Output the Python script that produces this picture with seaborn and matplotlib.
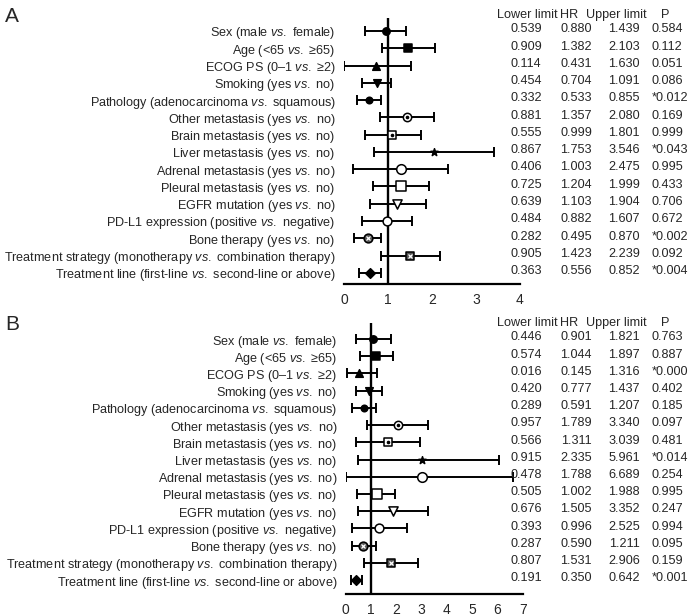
import matplotlib
matplotlib.use("Agg")
import matplotlib.pyplot as plt
import matplotlib.transforms as mtransforms
import seaborn as sns
import pandas as pd
import numpy as np

sns.set_style("white")
plt.rcParams["font.family"] = ["Liberation Sans", "DejaVu Sans"]
plt.rcParams["mathtext.fontset"] = "custom"
plt.rcParams["mathtext.rm"] = "Liberation Sans"
plt.rcParams["mathtext.it"] = "Liberation Sans:italic"

VS = r"$\mathit{vs.}$"
labels = [
    f"Sex (male {VS} female)",
    f"Age (<65 {VS} ≥65)",
    f"ECOG PS (0–1 {VS} ≥2)",
    f"Smoking (yes {VS} no)",
    f"Pathology (adenocarcinoma {VS} squamous)",
    f"Other metastasis (yes {VS} no)",
    f"Brain metastasis (yes {VS} no)",
    f"Liver metastasis (yes {VS} no)",
    f"Adrenal metastasis (yes {VS} no)",
    f"Pleural metastasis (yes {VS} no)",
    f"EGFR mutation (yes {VS} no)",
    f"PD-L1 expression (positive {VS} negative)",
    f"Bone therapy (yes {VS} no)",
    f"Treatment strategy (monotherapy {VS} combination therapy)",
    f"Treatment line (first-line {VS} second-line or above)",
]

# plotted positions
a_hr = [0.95, 1.46, 0.72, 0.74, 0.57, 1.44, 1.10, 2.05, 1.29, 1.30, 1.20, 0.98, 0.54, 1.50, 0.58]
a_lo = [0.48, 0.86, 0.00, 0.42, 0.29, 0.82, 0.48, 0.68, 0.20, 0.67, 0.58, 0.42, 0.23, 0.84, 0.34]
a_hi = [1.41, 2.07, 1.52, 1.06, 0.84, 2.05, 1.74, 3.42, 2.37, 1.93, 1.86, 1.55, 0.84, 2.18, 0.84]

b_hr = [1.09, 1.20, 0.53, 0.92, 0.72, 2.05, 1.66, 3.03, 3.00, 1.23, 1.86, 1.33, 0.70, 1.78, 0.41]
b_lo = [0.39, 0.57, 0.04, 0.39, 0.26, 0.83, 0.39, 0.50, 0.01, 0.43, 0.50, 0.24, 0.24, 0.72, 0.21]
b_hi = [1.79, 1.86, 1.25, 1.42, 1.18, 3.27, 2.94, 6.07, 6.60, 1.95, 3.24, 2.43, 1.18, 2.84, 0.66]

# table text
a_lower = ["0.539", "0.909", "0.114", "0.454", "0.332", "0.881", "0.555", "0.867",
           "0.406", "0.725", "0.639", "0.484", "0.282", "0.905", "0.363"]
a_hrtxt = ["0.880", "1.382", "0.431", "0.704", "0.533", "1.357", "0.999", "1.753",
           "1.003", "1.204", "1.103", "0.882", "0.495", "1.423", "0.556"]
a_upper = ["1.439", "2.103", "1.630", "1.091", "0.855", "2.080", "1.801", "3.546",
           "2.475", "1.999", "1.904", "1.607", "0.870", "2.239", "0.852"]
a_p = ["0.584", "0.112", "0.051", "0.086", "*0.012", "0.169", "0.999", "*0.043",
       "0.995", "0.433", "0.706", "0.672", "*0.002", "0.092", "*0.004"]

b_lower = ["0.446", "0.574", "0.016", "0.420", "0.289", "0.957", "0.566", "0.915",
           "0.478", "0.505", "0.676", "0.393", "0.287", "0.807", "0.191"]
b_hrtxt = ["0.901", "1.044", "0.145", "0.777", "0.591", "1.789", "1.311", "2.335",
           "1.788", "1.002", "1.505", "0.996", "0.590", "1.531", "0.350"]
b_upper = ["1.821", "1.897", "1.316", "1.437", "1.207", "3.340", "3.039", "5.961",
           "6.689", "1.988", "3.352", "2.525", "1.211", "2.906", "0.642"]
b_p = ["0.763", "0.887", "*0.000", "0.402", "0.185", "0.097", "0.481", "*0.014",
       "0.254", "0.995", "0.247", "0.994", "0.095", "0.159", "*0.001"]

# marker style per row: (marker, face, size, inner marker)
styles = [
    ("o", "black", 28, None),
    ("s", "black", 30, None),
    ("^", "black", 30, None),
    ("v", "black", 30, None),
    ("o", "black", 22, None),
    ("o", "white", 36, "dot"),
    ("s", "white", 36, "dot"),
    ("*", "black", 30, None),
    ("o", "white", 48, None),
    ("s", "white", 48, None),
    ("v", "white", 44, None),
    ("o", "white", 40, None),
    ("o", "#555555", 40, "x"),
    ("s", "#555555", 40, "x"),
    ("D", "black", 24, None),
]

W, H = 695, 616
fig = plt.figure(figsize=(W / 100, H / 100), dpi=100)
FS = 9.1


def px_axes(x0, x1, ytop, ybot):
    return fig.add_axes([x0 / W, 1 - ybot / H, (x1 - x0) / W, (ybot - ytop) / H])


def forest(ax, hr, lo, hi, xmax, ylim, lower, hrt, upper, p):
    df = pd.DataFrame({"row": np.arange(len(labels)), "hr": hr, "lo": lo, "hi": hi})
    ax.errorbar(df["hr"], df["row"],
                xerr=[df["hr"] - df["lo"], df["hi"] - df["hr"]],
                fmt="none", ecolor="black", elinewidth=1.4, capsize=3.8,
                capthick=1.4, zorder=2)
    ax.axvline(1, color="black", lw=1.7, zorder=1)
    for i, (m, fc, s, inner) in enumerate(styles):
        sns.scatterplot(x=[hr[i]], y=[i], marker=m, s=s, color=fc,
                        edgecolor="black", linewidth=1.1, ax=ax, zorder=3,
                        legend=False)
        if inner == "dot":
            ax.plot(hr[i], i, marker="o", ms=1.6, color="black", zorder=4)
        elif inner == "x":
            ax.plot(hr[i], i, marker="x", ms=3.2, mew=0.9, color="white", zorder=4)
    ax.set_xlim(0, xmax)
    ax.set_ylim(*ylim)
    ax.set_xticks(range(xmax + 1))
    ax.set_yticks(range(len(labels)))
    ax.set_yticklabels(labels, fontsize=FS)
    ax.tick_params(axis="y", length=0, pad=6)
    ax.tick_params(axis="x", direction="out", length=4.5, width=1.4,
                   labelsize=10, pad=2)
    ax.set_xlabel("")
    ax.set_ylabel("")
    for side in ["left", "right", "top"]:
        ax.spines[side].set_visible(False)
    ax.spines["bottom"].set_linewidth(1.6)
    ax.spines["bottom"].set_color("black")

    tr = mtransforms.blended_transform_factory(fig.transFigure, ax.transData)
    hdr = [("Lower limit", 527, "center"), ("HR", 569, "center"),
           ("Upper limit", 616, "center"), ("P", 665, "center")]
    for txt, x, ha in hdr:
        ax.text(x / W, -0.95, txt, transform=tr, ha=ha, va="center", fontsize=FS)
    for i in range(len(labels)):
        ax.text(526 / W, i - 0.1, lower[i], transform=tr, ha="center", va="center", fontsize=FS)
        ax.text(576 / W, i - 0.1, hrt[i], transform=tr, ha="center", va="center", fontsize=FS)
        ax.text(624 / W, i - 0.1, upper[i], transform=tr, ha="center", va="center", fontsize=FS)
        ax.text(652 / W, i - 0.1, p[i], transform=tr, ha="left", va="center", fontsize=FS)


ax_a = px_axes(344, 520, 18, 284)
forest(ax_a, a_hr, a_lo, a_hi, 4, (14.65, -0.75), a_lower, a_hrtxt, a_upper, a_p)

ax_b = px_axes(345.7, 522.7, 323, 594)
forest(ax_b, b_hr, b_lo, b_hi, 7, (14.81, -0.93), b_lower, b_hrtxt, b_upper, b_p)

fig.text(5 / W, 1 - 17 / H, "A", fontsize=15, ha="left", va="center")
fig.text(5 / W, 1 - 325 / H, "B", fontsize=15, ha="left", va="center")

fig.savefig("out.png", dpi=100)
